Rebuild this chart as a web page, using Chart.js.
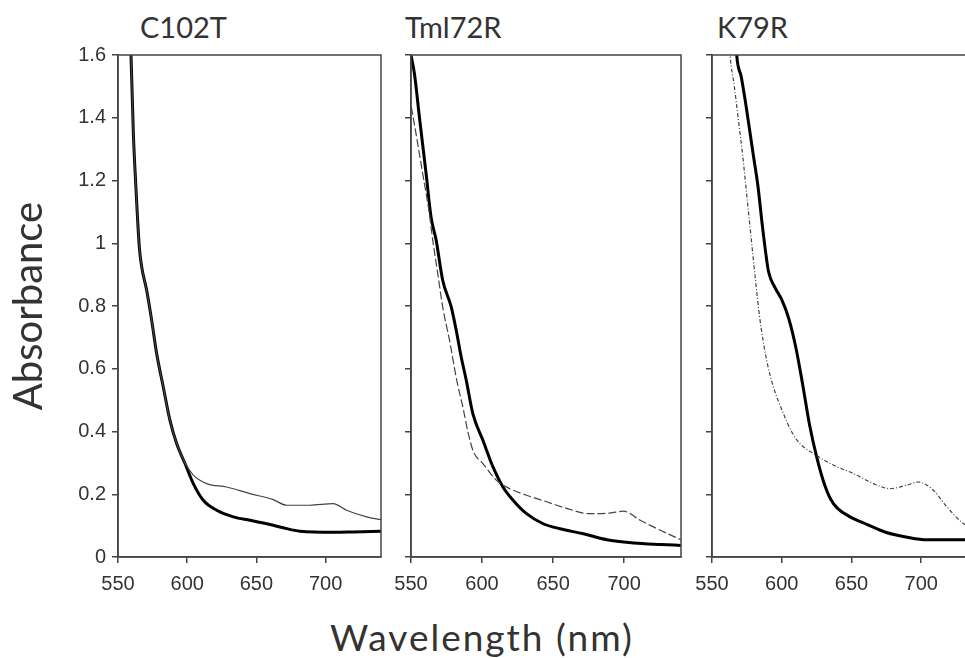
<!DOCTYPE html>
<html lang="en">
<head>
<meta charset="UTF-8">
<title>Absorbance spectra</title>
<script src="https://cdn.jsdelivr.net/npm/chart.js"></script>
<style>
  html, body { margin: 0; padding: 0; background: #fff; }
  body { width: 965px; height: 658px; overflow: hidden; position: relative;
         font-family: Lato, "DejaVu Sans", sans-serif; color: #333; }
  canvas { position: absolute; top: 0; }
  .label { position: absolute; white-space: nowrap; line-height: 1; }
</style>
</head>
<body>
<div class="label" style="left:140px; top:12px; font-size:29px;">C102T</div>
<div class="label" style="left:405px; top:12px; font-size:29px;">Tml72R</div>
<div class="label" style="left:717px; top:12px; font-size:29px;">K79R</div>
<div class="label" style="left:482px; top:618px; font-size:37px; letter-spacing:2px; transform:translateX(-50%);">Wavelength (nm)</div>

<canvas id="c102t" width="390" height="610" style="left:0"></canvas>
<canvas id="tml72r" width="300" height="610" style="left:395px"></canvas>
<canvas id="k79r" width="300" height="610" style="left:695px"></canvas>

<script>
// axis ticks
const xTicks = [550, 600, 650, 700];
const yTicks = [0, 0.2, 0.4, 0.6, 0.8, 1, 1.2, 1.4, 1.6];

// C102T
const c102tThickWl = [558.8, 559.4, 561.1, 562.8, 565.4, 567.1, 570.7, 574.3, 577.9, 582.7, 587.5, 592.4, 598.4, 604.4, 611.6, 621.3, 633.3, 645.3, 657.4, 669.4, 681.4, 705.5, 720, 740];
const c102tThickA  = [1.7, 1.6, 1.35, 1.19, 0.988, 0.925, 0.85, 0.755, 0.649, 0.542, 0.436, 0.361, 0.298, 0.234, 0.181, 0.149, 0.128, 0.117, 0.106, 0.093, 0.082, 0.079, 0.08, 0.082];
const c102tThinWl  = [558.8, 559.4, 561.1, 562.8, 565.4, 567.1, 570.7, 574.3, 577.9, 582.7, 587.5, 592.4, 598.4, 604.4, 614, 628.5, 645.3, 662.1, 671.8, 688.6, 705.5, 715.1, 729.6, 740];
const c102tThinA   = [1.7, 1.6, 1.35, 1.19, 0.988, 0.925, 0.85, 0.755, 0.649, 0.542, 0.436, 0.361, 0.3, 0.261, 0.234, 0.223, 0.202, 0.183, 0.165, 0.165, 0.17, 0.149, 0.128, 0.119];

// Tml72R
const tml72rThickWl = [550, 552.4, 555.9, 560.6, 564.1, 567.7, 572.3, 578.3, 581.8, 585.3, 588.9, 593.5, 600.6, 607.7, 614.7, 621.8, 631.3, 643, 654.8, 671.3, 687.8, 706.6, 725.5, 740];
const tml72rThickA  = [1.6, 1.541, 1.403, 1.223, 1.084, 1.01, 0.882, 0.797, 0.723, 0.638, 0.563, 0.457, 0.372, 0.287, 0.223, 0.181, 0.138, 0.106, 0.09, 0.074, 0.055, 0.045, 0.04, 0.037];
const tml72rDashWl  = [550.2, 553.5, 558.2, 562.9, 565.3, 568.8, 572.3, 577.1, 582.2, 586.5, 590, 594, 600.6, 610, 619.4, 631.3, 645.4, 659.5, 676, 690, 699.5, 711.3, 725.5, 740];
const tml72rDashA   = [1.435, 1.35, 1.223, 1.095, 1.01, 0.904, 0.797, 0.691, 0.563, 0.478, 0.4, 0.335, 0.298, 0.245, 0.218, 0.197, 0.176, 0.155, 0.138, 0.14, 0.146, 0.117, 0.085, 0.055];

// K79R
const k79rThickWl = [566.5, 567.7, 571, 574, 577, 580, 583, 586, 588.5, 590.5, 595, 600, 605, 610, 615, 620, 625, 630, 635, 640, 649, 661, 675, 690, 704, 733];
const k79rThickA  = [1.7, 1.6, 1.53, 1.45, 1.36, 1.27, 1.18, 1.06, 0.97, 0.91, 0.86, 0.82, 0.76, 0.67, 0.55, 0.42, 0.32, 0.24, 0.185, 0.155, 0.128, 0.104, 0.078, 0.063, 0.055, 0.055];
const k79rDotWl   = [561.5, 562.9, 566, 569, 572, 575, 578, 581, 584, 587, 590, 594, 601.2, 607, 613.1, 622.7, 637, 651.4, 665.7, 677.7, 689.7, 698, 708.9, 718.5, 730.4, 733];
const k79rDotA    = [1.7, 1.6, 1.5, 1.39, 1.28, 1.15, 1.02, 0.89, 0.77, 0.68, 0.61, 0.542, 0.457, 0.4, 0.361, 0.33, 0.293, 0.266, 0.234, 0.218, 0.229, 0.239, 0.212, 0.159, 0.106, 0.1];

const pts = (wl, a) => wl.map((x, i) => ({ x: x, y: a[i] }));
const axisColor = '#444';
const tickFont = { family: '"Liberation Sans", Arial, sans-serif', size: 20 };

const frame = {
  id: 'frame',
  afterDraw(chart) {
    const { ctx, chartArea: a } = chart;
    ctx.save();
    ctx.strokeStyle = axisColor;
    ctx.lineWidth = 1.5;
    ctx.strokeRect(a.left, a.top, a.right - a.left, a.bottom - a.top);
    ctx.restore();
  }
};

function thick(data) {
  return { data: data, borderColor: '#000', borderWidth: 3 };
}
function thin(data, dash) {
  return { data: data, borderColor: '#444', borderWidth: 1.2, borderDash: dash };
}

function makePanel(id, yWidth, padRight, datasets, withLabels) {
  return new Chart(document.getElementById(id), {
    type: 'line',
    data: { datasets: datasets },
    options: {
      responsive: false,
      animation: false,
      devicePixelRatio: 1,
      layout: { padding: { top: 55, right: padRight, bottom: 0, left: 0 } },
      plugins: { legend: { display: false }, tooltip: { enabled: false } },
      elements: { point: { radius: 0 }, line: { cubicInterpolationMode: 'monotone' } },
      scales: {
        x: {
          type: 'linear', min: 550, max: 740,
          afterBuildTicks: s => { s.ticks = xTicks.map(v => ({ value: v })); },
          afterFit: s => { s.height = 53; s.paddingLeft = 0; s.paddingRight = 0; },
          grid: { drawOnChartArea: false, color: axisColor, lineWidth: 1.5, tickLength: 6 },
          border: { color: axisColor, width: 1.5 },
          ticks: { font: tickFont, color: '#333', padding: 9, maxRotation: 0, autoSkip: false }
        },
        y: {
          type: 'linear', min: 0, max: 1.6,
          afterBuildTicks: s => { s.ticks = yTicks.map(v => ({ value: v })); },
          afterFit: s => { s.width = yWidth; s.paddingTop = 0; s.paddingBottom = 0; },
          grid: { drawOnChartArea: false, color: axisColor, lineWidth: 1.5, tickLength: 6 },
          border: { color: axisColor, width: 1.5 },
          ticks: { display: withLabels, font: tickFont, color: '#333', padding: 6,
                   callback: v => String(v) },
          title: {
            display: withLabels, text: 'Absorbance', color: '#333',
            font: { family: 'Lato, "DejaVu Sans", sans-serif', size: 40 },
            padding: { top: 5, bottom: 0 }
          }
        }
      }
    },
    plugins: [frame]
  });
}

makePanel('c102t', 118, 9, [
  thin(pts(c102tThinWl, c102tThinA), []),
  thick(pts(c102tThickWl, c102tThickA))
], true);

makePanel('tml72r', 16, 14, [
  thin(pts(tml72rDashWl, tml72rDashA), [8, 3]),
  thick(pts(tml72rThickWl, tml72rThickA))
], false);

makePanel('k79r', 17, 18, [
  thin(pts(k79rDotWl, k79rDotA), [4, 2, 1, 2]),
  thick(pts(k79rThickWl, k79rThickA))
], false);
</script>
</body>
</html>
